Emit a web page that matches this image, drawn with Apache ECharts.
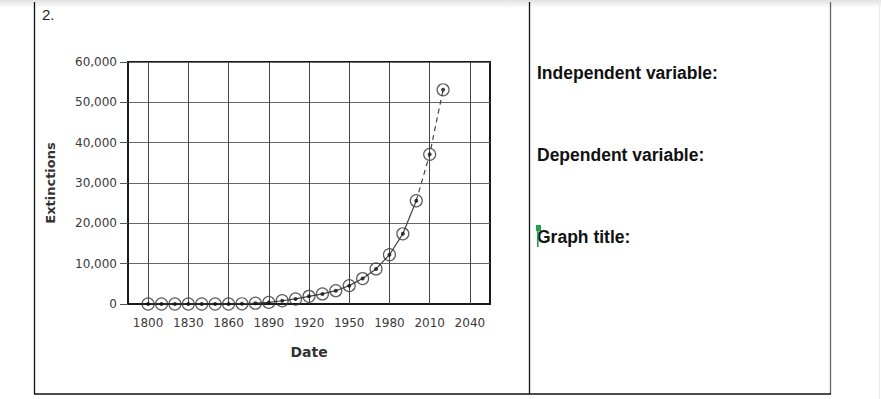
<!DOCTYPE html>
<html>
<head>
<meta charset="utf-8">
<script src="https://cdn.jsdelivr.net/npm/echarts@6/dist/echarts.min.js"></script>
<style>
html,body{margin:0;padding:0;background:#fff;}
#chart{width:881px;height:399px;}
</style>
</head>
<body>
<div id="chart"></div>
<script>
// ---- data ----
const years = [1800,1810,1820,1830,1840,1850,1860,1870,1880,1890,1900,1910,1920,1930,1940,1950,1960,1970,1980,1990,2000,2010,2020];
const extinctions = [0,0,0,0,0,0,0,50,200,400,800,1250,1900,2500,3300,4550,6300,8700,12200,17400,25600,37100,53100];
const observedUntil = 2000; // solid line up to here, dashed after
const gridYears = [1800,1830,1860,1890,1920,1950,1980,2010,2040];
const yTicks = [0,10000,20000,30000,40000,50000,60000];
const questionLabels = ['Independent variable:','Dependent variable:','Graph title:'];
const itemNumber = '2.';
const xName = 'Date';
const yName = 'Extinctions';

const pts = years.map((y,i)=>[y, extinctions[i]]);
const solidPts = pts.filter(p=>p[0] <= observedUntil);
const dashedPts = pts.filter(p=>p[0] >= observedUntil);

const FONT = '"Liberation Sans", Arial, Helvetica, sans-serif';
const CFONT = '"DejaVu Sans", Verdana, sans-serif';
const chart = echarts.init(document.getElementById('chart'), null, {renderer:'svg'});

const qY = [73, 155, 237];

chart.setOption({
  animation:false,
  backgroundColor:'#fff',
  grid:{left:128, top:62, width:362, height:242, show:true, borderColor:'#1a1a1a', borderWidth:2, backgroundColor:'transparent', containLabel:false},
  xAxis:{
    type:'value', min:1785, max:2055, interval:15,
    name:xName, nameLocation:'middle', nameGap:41,
    nameTextStyle:{fontFamily:CFONT, fontSize:14, fontWeight:'bold', color:'#333', verticalAlign:'top'},
    axisLine:{show:true, onZero:false, lineStyle:{color:'#1a1a1a', width:2}},
    axisTick:{show:false},
    splitLine:{show:false},
    axisLabel:{fontFamily:CFONT, fontSize:12, color:'#3a3a3a', margin:13,
      showMinLabel:false, showMaxLabel:false,
      formatter:v=> gridYears.indexOf(v) >= 0 ? String(v) : ''}
  },
  yAxis:{
    type:'value', min:0, max:60000, interval:10000,
    name:yName, nameLocation:'middle', nameGap:71,
    nameTextStyle:{fontFamily:CFONT, fontSize:13, fontWeight:'bold', color:'#333'},
    axisLine:{show:true, lineStyle:{color:'#1a1a1a', width:2}},
    axisTick:{show:true, length:8, lineStyle:{color:'#555', width:1}},
    splitLine:{show:true, lineStyle:{color:'#666', width:1}},
    axisLabel:{fontFamily:CFONT, fontSize:12, color:'#3a3a3a', margin:11,
      formatter:v=> v.toLocaleString('en-US')}
  },
  series:[
    {
      type:'line', data:solidPts, symbol:'none', z:3,
      lineStyle:{color:'#444', width:1.2},
      markLine:{
        silent:true, symbol:'none', label:{show:false},
        lineStyle:{color:'#444', width:1, type:'solid'},
        data: gridYears.map(v=>({xAxis:v}))
      }
    },
    {
      type:'line', data:dashedPts, symbol:'none', z:3,
      lineStyle:{color:'#444', width:1.2, type:[5,4]}
    },
    {
      type:'scatter', data:pts, symbol:'circle', symbolSize:12, z:4,
      itemStyle:{color:'rgba(255,255,255,0)', borderColor:'#333', borderWidth:1.2}
    },
    {
      type:'scatter', data:pts, symbol:'circle', symbolSize:4, z:5,
      itemStyle:{color:'#111'}
    }
  ],
  graphic:[
    {type:'rect', silent:true, z:-1, shape:{x:0,y:0,width:881,height:8},
      style:{fill:new echarts.graphic.LinearGradient(0,0,0,1,[{offset:0,color:'#e2e2e2'},{offset:1,color:'#ffffff'}])}},
    {type:'line', silent:true, shape:{x1:879.5,y1:0,x2:879.5,y2:399}, style:{stroke:'#ececec', lineWidth:1}},
    {type:'line', silent:true, shape:{x1:34.5,y1:2,x2:34.5,y2:394}, style:{stroke:'#111', lineWidth:1.3}},
    {type:'line', silent:true, shape:{x1:529.5,y1:2,x2:529.5,y2:394}, style:{stroke:'#111', lineWidth:1.3}},
    {type:'line', silent:true, shape:{x1:830.5,y1:2,x2:830.5,y2:394}, style:{stroke:'#666', lineWidth:1.3}},
    {type:'line', silent:true, shape:{x1:34,y1:394,x2:831,y2:394}, style:{stroke:'#111', lineWidth:1.3}},
    {type:'text', silent:true, x:42, y:14, style:{text:itemNumber, font:'15px '+FONT, fill:'#222', verticalAlign:'middle'}},
    ...questionLabels.map((t,i)=>({type:'text', silent:true, x:537, y:qY[i],
      style:{text:t, font:'bold 17.5px '+FONT, fill:'#111', verticalAlign:'middle'}})),
    {type:'rect', silent:true, z:10, shape:{x:536,y:225,width:5,height:6}, style:{fill:'#22a052'}},
    {type:'rect', silent:true, z:10, shape:{x:537,y:227,width:1.6,height:20}, style:{fill:'#22a052'}}
  ]
});
</script>
</body>
</html>
